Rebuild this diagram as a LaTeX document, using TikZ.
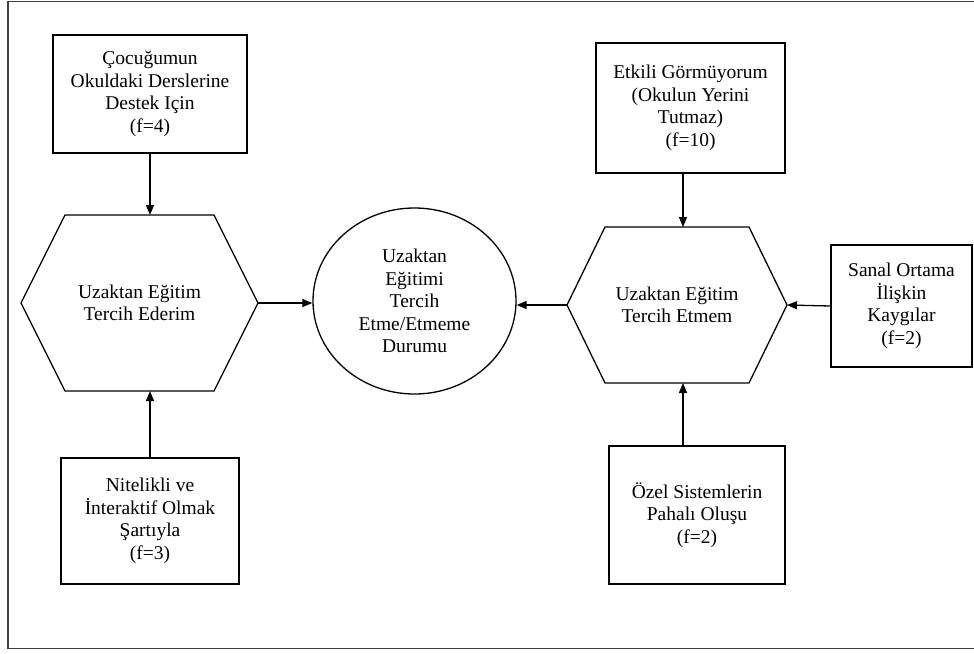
\documentclass[tikz,border=0pt]{standalone}
\usepackage{fontspec}
\setmainfont{Liberation Serif}
\usetikzlibrary{arrows.meta,shapes.geometric}

\tikzset{
  kutu/.style={draw, rectangle, align=center, inner sep=2pt},
  altigen/.style={rectangle, align=center, inner sep=0pt, outer sep=0pt},
  daire/.style={draw, ellipse, align=center, inner sep=0pt},
}
% hexagon drawn through the anchors of an invisible rectangle
\newcommand{\altigenciz}[2]{%
  \draw ([xshift=#2]#1.north west) -- ([xshift=-#2]#1.north east) -- (#1.east)
    -- ([xshift=-#2]#1.south east) -- ([xshift=#2]#1.south west) -- (#1.west) -- cycle;}

\begin{document}
\begin{tikzpicture}[x=1pt,y=-1pt,line width=1.3pt,>={Triangle[length=10pt,width=8pt]},
  font=\rmfamily\fontsize{19.5}{22.5}\selectfont]
  \useasboundingbox (0,0) rectangle (974,653);
  \draw[line width=1.6pt, black!75] (8,1.5) rectangle (990,648.5);

  % left side
  \node[kutu, minimum width=194pt, minimum height=118pt] (cocuk) at (150,94)
    {Çocuğumun\\Okuldaki Derslerine\\Destek Için\\(f=4)};
  \node[altigen, minimum width=237pt, minimum height=176pt] (tercih) at (139.5,303)
    {Uzaktan Eğitim\\Tercih Ederim};
  \node[kutu, minimum width=178pt, minimum height=126pt] (nitelik) at (150,521)
    {Nitelikli ve\\İnteraktif Olmak\\Şartıyla\\(f=3)};

  % centre
  \node[daire, minimum width=203pt, minimum height=186pt] (durum) at (414.5,301)
    {Uzaktan\\Eğitimi\\Tercih\\Etme/Etmeme\\Durumu};

  % right side
  \node[altigen, minimum width=220pt, minimum height=156pt] (etmem) at (677,305)
    {Uzaktan Eğitim\\Tercih Etmem};
  \node[kutu, minimum width=189pt, minimum height=130pt] (etkili) at (690.5,108)
    {Etkili Görmüyorum\\(Okulun Yerini\\Tutmaz)\\(f=10)};
  \node[kutu, minimum width=141pt, minimum height=122pt] (sanal) at (901.5,306)
    {Sanal Ortama\\İlişkin\\Kaygılar\\(f=2)};
  \node[kutu, minimum width=176pt, minimum height=138pt] (ozel) at (697,515)
    {Özel Sistemlerin\\Pahalı Oluşu\\(f=2)};

  \altigenciz{tercih}{44pt}
  \altigenciz{etmem}{38pt}

  \path[->] (cocuk.south) edge (cocuk.south |- tercih.north)
        (nitelik.north) edge (nitelik.north |- tercih.south)
        (tercih.east) edge (tercih.east -| durum.west)
        (etmem.west) edge (etmem.west -| durum.east)
        ([xshift=-7.5pt]etkili.south) edge ([xshift=6pt]etmem.north)
        ([xshift=-14pt]ozel.north) edge ([xshift=6pt]etmem.south)
        (sanal.west) edge (etmem.east);
\end{tikzpicture}
\end{document}
